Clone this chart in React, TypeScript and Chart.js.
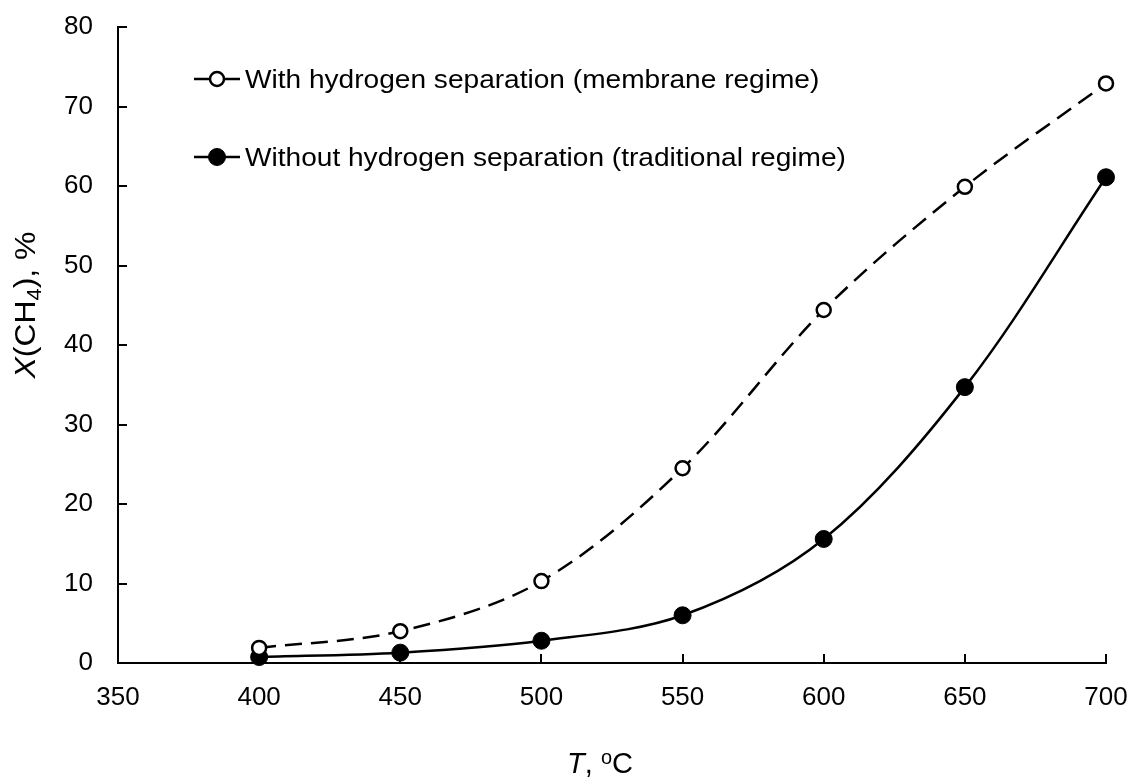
import React, { useEffect, useRef } from 'react';
import { Chart, registerables } from 'chart.js';

Chart.register(...registerables);

// ---- data ----
const temperatures = [400, 450, 500, 550, 600, 650, 700];
const withSeparation = [1.9, 4.0, 10.3, 24.5, 44.4, 59.9, 72.9];
const withoutSeparation = [0.75, 1.3, 2.8, 6.0, 15.6, 34.7, 61.1];
const xTickValues = [350, 400, 450, 500, 550, 600, 650, 700];
const yTickValues = [0, 10, 20, 30, 40, 50, 60, 70, 80];
const legendLabels = [
  'With hydrogen separation (membrane regime)',
  'Without hydrogen separation (traditional regime)',
];

const FONT = '"Liberation Sans", Arial, sans-serif';

type Seg = { t: string; italic?: boolean; sub?: boolean; sup?: boolean };

function drawRich(ctx: CanvasRenderingContext2D, segs: Seg[], size: number, cx: number, baseline: number, sx = 1) {
  const fontOf = (s: Seg) => {
    const sz = s.sub || s.sup ? Math.round(size * 0.68) : size;
    return `${s.italic ? 'italic ' : ''}${sz}px ${FONT}`;
  };
  let total = 0;
  for (const s of segs) {
    ctx.font = fontOf(s);
    total += ctx.measureText(s.t).width;
  }
  ctx.save();
  ctx.translate(cx, baseline);
  ctx.scale(sx, 1);
  let x = -total / 2;
  ctx.textAlign = 'left';
  ctx.textBaseline = 'alphabetic';
  for (const s of segs) {
    ctx.font = fontOf(s);
    let y = 0;
    if (s.sub) y += size * 0.2;
    if (s.sup) y -= size * 0.3;
    ctx.fillText(s.t, x, y);
    x += ctx.measureText(s.t).width;
  }
  ctx.restore();
}

const decorPlugin = {
  id: 'decor',
  beforeDatasetsDraw(chart: any) {
    const { ctx, chartArea, scales } = chart;
    ctx.save();
    ctx.strokeStyle = '#000';
    ctx.lineWidth = 2;
    for (const v of yTickValues) {
      const y = Math.round(scales.y.getPixelForValue(v));
      ctx.beginPath();
      ctx.moveTo(chartArea.left, y);
      ctx.lineTo(chartArea.left + 9, y);
      ctx.stroke();
    }
    for (const v of xTickValues) {
      const x = Math.round(scales.x.getPixelForValue(v));
      ctx.beginPath();
      ctx.moveTo(x, chartArea.bottom);
      ctx.lineTo(x, chartArea.bottom - 9);
      ctx.stroke();
    }
    ctx.restore();
  },
  afterDraw(chart: any) {
    const { ctx } = chart;
    ctx.save();
    ctx.fillStyle = '#000';
    ctx.strokeStyle = '#000';
    // legend
    const rows = [
      { y: 79, label: legendLabels[0], filled: false },
      { y: 157, label: legendLabels[1], filled: true },
    ];
    for (const r of rows) {
      ctx.lineWidth = 2.5;
      ctx.setLineDash([]);
      ctx.beginPath();
      ctx.moveTo(194, r.y);
      ctx.lineTo(240, r.y);
      ctx.stroke();
      ctx.beginPath();
      ctx.arc(217, r.y, r.filled ? 8.5 : 7, 0, Math.PI * 2);
      ctx.fillStyle = r.filled ? '#000' : '#fff';
      ctx.fill();
      ctx.lineWidth = r.filled ? 1 : 2.5;
      ctx.stroke();
      ctx.fillStyle = '#000';
      ctx.save();
      ctx.translate(245, r.y + 9);
      ctx.scale(1.08, 1);
      ctx.font = `26px ${FONT}`;
      ctx.textAlign = 'left';
      ctx.textBaseline = 'alphabetic';
      ctx.fillText(r.label, 0, 0);
      ctx.restore();
    }
    // x title
    drawRich(ctx, [{ t: 'T', italic: true }, { t: ', ' }, { t: 'o', sup: true }, { t: 'C' }], 29, 600, 773, 1.0);
    // y title
    ctx.save();
    ctx.translate(35, 305);
    ctx.rotate(-Math.PI / 2);
    drawRich(ctx, [{ t: 'X', italic: true }, { t: '(CH' }, { t: '4', sub: true }, { t: '), %' }], 29, 0, 0, 1.1);
    ctx.restore();
    ctx.restore();
  },
};

export default function App() {
  const ref = useRef<HTMLCanvasElement | null>(null);
  useEffect(() => {
    document.body.style.margin = '0';
    const canvas = ref.current!;
    const chart = new Chart(canvas, {
      type: 'line',
      data: {
        datasets: [
          {
            label: legendLabels[0],
            data: temperatures.map((t, i) => ({ x: t, y: withSeparation[i] })),
            borderColor: '#000',
            borderWidth: 2.5,
            borderDash: [17, 9],
            pointRadius: 7,
            pointBackgroundColor: '#fff',
            pointBorderColor: '#000',
            pointBorderWidth: 2.5,
            tension: 0.33,
            fill: false,
            clip: false as any,
          },
          {
            label: legendLabels[1],
            data: temperatures.map((t, i) => ({ x: t, y: withoutSeparation[i] })),
            borderColor: '#000',
            borderWidth: 2.5,
            pointRadius: 8.5,
            pointBackgroundColor: '#000',
            pointBorderColor: '#000',
            pointBorderWidth: 1,
            tension: 0.33,
            fill: false,
            clip: false as any,
          },
        ],
      },
      options: {
        animation: false,
        responsive: false,
        events: [],
        layout: { padding: { left: 0, right: 28, top: 27, bottom: 0 } },
        plugins: { legend: { display: false }, tooltip: { enabled: false } },
        scales: {
          x: {
            type: 'linear',
            min: 350,
            max: 700,
            afterFit: (s: any) => { s.height = 115; s.paddingLeft = 0; s.paddingRight = 0; },
            afterBuildTicks: (s: any) => { s.ticks = xTickValues.map((v) => ({ value: v })); },
            ticks: { color: '#000', font: { family: FONT, size: 26 }, padding: 19 },
            grid: { color: 'rgba(0,0,0,0)', drawTicks: false, tickLength: 0 },
            border: { display: true, color: '#000', width: 2 },
          },
          y: {
            type: 'linear',
            min: 0,
            max: 80,
            afterFit: (s: any) => { s.width = 118; s.paddingTop = 0; s.paddingBottom = 0; },
            afterBuildTicks: (s: any) => { s.ticks = yTickValues.map((v) => ({ value: v })); },
            ticks: { color: '#000', font: { family: FONT, size: 26 }, padding: 25 },
            grid: { color: 'rgba(0,0,0,0)', drawTicks: false, tickLength: 0 },
            border: { display: true, color: '#000', width: 2 },
          },
        },
      },
      plugins: [decorPlugin],
    });
    return () => chart.destroy();
  }, []);
  return (
    <div style={{ position: 'absolute', left: 0, top: 0, width: 1134, height: 778, background: '#fff' }}>
      <canvas ref={ref} width={1134} height={778} style={{ display: 'block' }} />
    </div>
  );
}
